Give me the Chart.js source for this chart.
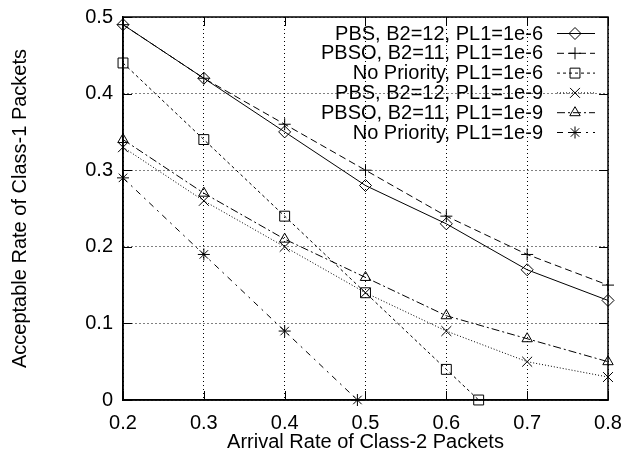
<!DOCTYPE html>
<html>
<head>
<meta charset="utf-8">
<script src="https://cdn.jsdelivr.net/npm/chart.js@4"></script>
<style>
  html, body { margin: 0; padding: 0; background: #fff; }
  #wrap { width: 626px; height: 450px; }
</style>
</head>
<body>
<div id="wrap"><canvas id="chart" width="626" height="450"></canvas></div>
<script>
// arrival rate of class-2 packets (x)
const arrival = [0.2, 0.3, 0.4, 0.5, 0.6, 0.7, 0.8]
const noPrioX6 = [0.2, 0.3, 0.4, 0.5, 0.6, 0.64]
const noPrioX9 = [0.2, 0.3, 0.4, 0.49]

// acceptable rate of class-1 packets (y)
const pbs6 = [0.49, 0.42, 0.35, 0.28, 0.23, 0.17, 0.13]
const pbso6 = [0.49, 0.42, 0.36, 0.30, 0.24, 0.19, 0.15]
const noPrio6 = [0.44, 0.34, 0.24, 0.14, 0.04, 0]
const pbs9 = [0.33, 0.26, 0.20, 0.14, 0.09, 0.05, 0.03]
const pbso9 = [0.34, 0.27, 0.21, 0.16, 0.11, 0.08, 0.05]
const noPrio9 = [0.29, 0.19, 0.09, 0]

const seriesNames = [
    "PBS, B2=12, PL1=1e-6",
    "PBSO, B2=11, PL1=1e-6",
    "No Priority, PL1=1e-6",
    "PBS, B2=12, PL1=1e-9",
    "PBSO, B2=11, PL1=1e-9",
    "No Priority, PL1=1e-9"
]
const xTicks = [0.2, 0.3, 0.4, 0.5, 0.6, 0.7, 0.8]
const yTicks = [0, 0.1, 0.2, 0.3, 0.4, 0.5]

const FONT = "'Liberation Sans', Arial, sans-serif"

function pts(xs, ys) {
    return xs.map((x, i) => ({ x: x, y: ys[i] }))
}

function makeSet(i, xs, ys, style, radius, dash) {
    return {
        label: seriesNames[i],
        data: pts(xs, ys),
        borderColor: 'black',
        backgroundColor: 'rgba(0,0,0,0)',
        borderWidth: 1,
        borderDash: dash,
        pointStyle: style,
        pointRadius: radius,
        pointBorderColor: 'black',
        pointBackgroundColor: 'rgba(0,0,0,0)',
        pointBorderWidth: 1,
        tension: 0,
        fill: false,
        clip: false
    }
}

const datasets = [
    makeSet(0, arrival, pbs6, 'rectRot', 6, []),
    makeSet(1, arrival, pbso6, 'cross', 6, [7, 4]),
    makeSet(2, noPrioX6, noPrio6, 'rect', 7, [3, 3]),
    makeSet(3, arrival, pbs9, 'crossRot', 7, [1, 2]),
    makeSet(4, arrival, pbso9, 'triangle', 6, [8, 3, 2, 3]),
    makeSet(5, noPrioX9, noPrio9, 'star', 6, [6, 5, 2, 5])
]

// inward tick marks on all four sides, closed frame, and gnuplot-like key
const framePlugin = {
    id: 'frame',
    afterDatasetsDraw(chart) {
        const ctx = chart.ctx
        const a = chart.chartArea
        const xs = chart.scales.x
        const ys = chart.scales.y
        ctx.save()
        ctx.strokeStyle = 'black'
        ctx.lineWidth = 1
        ctx.setLineDash([])
        const tl = 9
        ctx.beginPath()
        xTicks.forEach(v => {
            const px = Math.round(xs.getPixelForValue(v)) + 0.5
            ctx.moveTo(px, a.bottom); ctx.lineTo(px, a.bottom - tl)
            ctx.moveTo(px, a.top); ctx.lineTo(px, a.top + tl)
        })
        yTicks.forEach(v => {
            const py = Math.round(ys.getPixelForValue(v)) + 0.5
            ctx.moveTo(a.left, py); ctx.lineTo(a.left + tl, py)
            ctx.moveTo(a.right, py); ctx.lineTo(a.right - tl, py)
        })
        ctx.stroke()
        ctx.lineWidth = 1.5
        ctx.strokeRect(a.left, a.top, a.right - a.left, a.bottom - a.top)

        // key
        ctx.font = '20px ' + FONT
        ctx.textAlign = 'right'
        ctx.textBaseline = 'middle'
        const textRight = 543
        const x0 = 557, x1 = 595
        chart.data.datasets.forEach((ds, i) => {
            const y = 33 + i * 19.8
            ctx.fillStyle = 'black'
            ctx.fillText(ds.label, textRight, y + 1)
            ctx.lineWidth = 1
            ctx.setLineDash(ds.borderDash)
            ctx.beginPath()
            ctx.moveTo(x0, y + 0.5)
            ctx.lineTo(x1, y + 0.5)
            ctx.stroke()
            ctx.setLineDash([])
            ctx.fillStyle = 'rgba(0,0,0,0)'
            Chart.helpers.drawPoint(ctx, {
                pointStyle: ds.pointStyle,
                radius: ds.pointRadius,
                rotation: 0,
                borderWidth: 1
            }, (x0 + x1) / 2 - 1, y + 0.5)
        })
        ctx.restore()
    }
}

new Chart('chart', {
    type: 'line',
    data: { datasets: datasets },
    plugins: [framePlugin],
    options: {
        responsive: false,
        animation: false,
        devicePixelRatio: 1,
        layout: { padding: { top: 17, right: 18, left: 0, bottom: 0 } },
        plugins: {
            legend: { display: false },
            tooltip: { enabled: false }
        },
        scales: {
            x: {
                type: 'linear',
                min: 0.2,
                max: 0.8,
                afterBuildTicks: s => { s.ticks = xTicks.map(v => ({ value: v })) },
                afterFit: s => { s.height = 50; s.paddingLeft = 0; s.paddingRight = 0 },
                ticks: {
                    color: 'black',
                    font: { family: FONT, size: 20 },
                    padding: 11,
                    maxRotation: 0,
                    callback: v => v.toFixed(1)
                },
                grid: { color: 'black', lineWidth: 1, drawTicks: false },
                border: { display: true, color: 'black', width: 1.5, dash: [1, 3] },
                title: {
                    display: true,
                    text: 'Arrival Rate of Class-2 Packets',
                    color: 'black',
                    font: { family: FONT, size: 20, lineHeight: 0.8 },
                    padding: 0
                }
            },
            y: {
                type: 'linear',
                min: 0,
                max: 0.5,
                afterBuildTicks: s => { s.ticks = yTicks.map(v => ({ value: v })) },
                afterFit: s => { s.width = 123; s.paddingTop = 0; s.paddingBottom = 0 },
                ticks: {
                    color: 'black',
                    font: { family: FONT, size: 20 },
                    padding: 10,
                    callback: v => v === 0 ? '0' : v.toFixed(1)
                },
                grid: { color: 'black', lineWidth: 1, drawTicks: false },
                border: { display: true, color: 'black', width: 1.5, dash: [1, 3] },
                title: {
                    display: true,
                    text: 'Acceptable Rate of Class-1 Packets',
                    color: 'black',
                    font: { family: FONT, size: 20, lineHeight: 1 },
                    padding: { top: 10, bottom: 0 }
                }
            }
        }
    }
})
</script>
</body>
</html>
